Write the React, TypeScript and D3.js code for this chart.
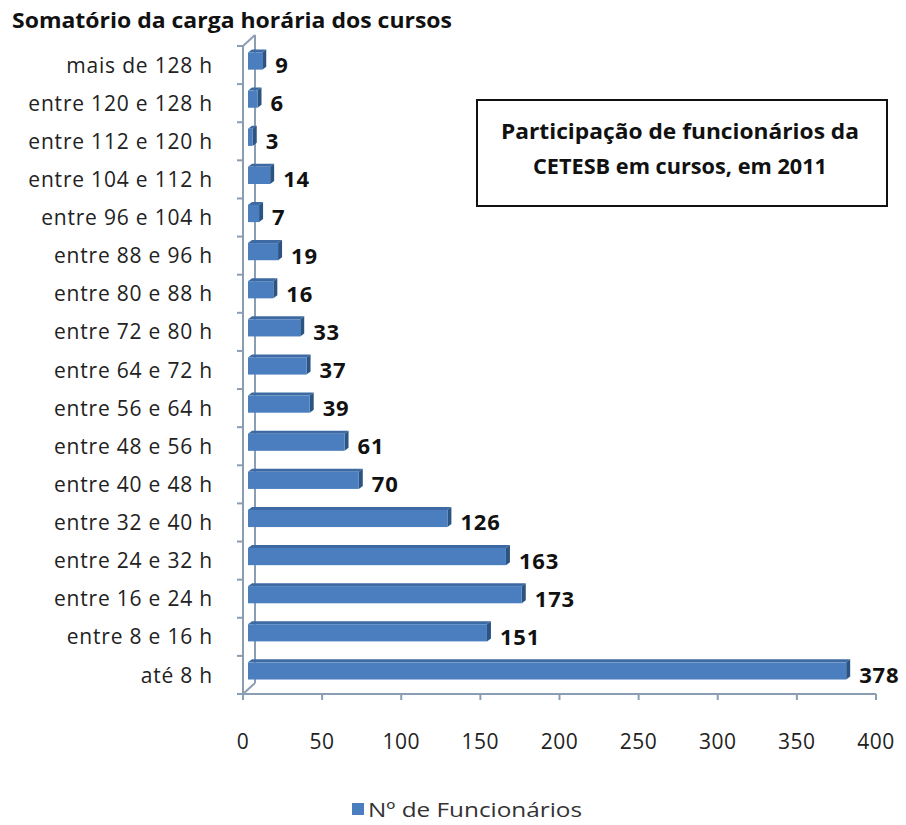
import React from "react";
import * as d3 from "d3";

const categories = [
  "mais de 128 h",
  "entre 120 e 128 h",
  "entre 112 e 120 h",
  "entre 104 e 112 h",
  "entre 96 e 104 h",
  "entre 88 e 96 h",
  "entre 80 e 88 h",
  "entre 72 e 80 h",
  "entre 64 e 72 h",
  "entre 56 e 64 h",
  "entre 48 e 56 h",
  "entre 40 e 48 h",
  "entre 32 e 40 h",
  "entre 24 e 32 h",
  "entre 16 e 24 h",
  "entre 8 e 16 h",
  "até 8 h",
];
const values = [9, 6, 3, 14, 7, 19, 16, 33, 37, 39, 61, 70, 126, 163, 173, 151, 378];
const xTicks = [0, 50, 100, 150, 200, 250, 300, 350, 400];
const seriesName = "Nº de Funcionários";
const chartTitle = "Somatório da carga horária dos cursos";
const boxLines = ["Participação de funcionários da", "CETESB em cursos, em 2011"];

const FONT = "'Open Sans', Lato, sans-serif";

export default function App() {
  const W = 906, H = 825;
  const x0 = 243, x1 = 876, yTop = 46, yBot = 694;
  const depth = { dx: 12, dy: -11 };
  const x = d3.scaleLinear().domain([0, 400]).range([x0, x1]);
  const y = d3.scaleBand().domain(categories).range([yTop, yBot]).paddingInner(0.55).paddingOuter(0.275);
  const yb = d3.scaleBand().domain(categories).range([yTop, yBot]);
  const axisColor = "#8a9db3";
  const fOff = { dx: 5, dy: -4 };
  const bOff = { dx: 9, dy: -7 };

  return (
    <svg width={W} height={H} style={{ display: "block", position: "absolute", left: 0, top: 0, background: "#fff" }}>
      <rect width={W} height={H} fill="#fff" />
      <text x={12} y={28} fontFamily={FONT} fontWeight="bold" fontSize={22} fill="#111" textLength={440} lengthAdjust="spacingAndGlyphs">{chartTitle}</text>

      {/* back wall line & diagonals */}
      <line x1={x0 + depth.dx} y1={yTop + depth.dy} x2={x0 + depth.dx} y2={yBot + depth.dy} stroke={axisColor} strokeWidth={2} />
      <line x1={x0} y1={yTop} x2={x0 + depth.dx} y2={yTop + depth.dy} stroke={axisColor} strokeWidth={2} />
      <line x1={x0} y1={yBot} x2={x0 + depth.dx} y2={yBot + depth.dy} stroke={axisColor} strokeWidth={2} />

      {/* bars */}
      {categories.map((c, i) => {
        const v = values[i];
        const yt = y(c)!;
        const h = y.bandwidth();
        const xs = x(0) + fOff.dx, xe = x(v) + fOff.dx;
        const ft = yt + fOff.dy;
        const ddx = bOff.dx - fOff.dx, ddy = bOff.dy - fOff.dy;
        return (
          <g key={c}>
            <path d={`M${xs},${ft} L${xs + ddx},${ft + ddy} L${xe + ddx},${ft + ddy} L${xe},${ft} Z`} fill="#3d6aa3" />
            <path d={`M${xe},${ft} L${xe + ddx},${ft + ddy} L${xe + ddx},${ft + ddy + h} L${xe},${ft + h} Z`} fill="#2c5483" />
            <rect x={xs} y={ft} width={Math.max(0, xe - xs)} height={h} fill="#4a7ebf" />
            <text x={xe + ddx + 9} y={yb(c)! + yb.bandwidth() / 2} dy="0.36em" fontFamily={FONT} fontWeight="bold" fontSize={22} letterSpacing={0.8} fill="#111">{v}</text>
          </g>
        );
      })}

      {/* front axes */}
      <line x1={x0} y1={yTop} x2={x0} y2={yBot} stroke={axisColor} strokeWidth={2} />
      {categories.map((c) => (
        <line key={"t" + c} x1={x0 - 6} x2={x0} y1={yb(c)!} y2={yb(c)!} stroke={axisColor} strokeWidth={2} />
      ))}
      <line x1={x0 - 6} x2={x0} y1={yBot} y2={yBot} stroke={axisColor} strokeWidth={2} />
      {categories.map((c) => (
        <text key={"l" + c} x={213} y={yb(c)! + yb.bandwidth() / 2} dy="0.36em" textAnchor="end" fontFamily={FONT} fontSize={21} letterSpacing={0.8} fill="#222">{c}</text>
      ))}
      <line x1={x0} y1={yBot} x2={x1} y2={yBot} stroke={axisColor} strokeWidth={2} />
      {xTicks.map((t) => (
        <g key={"x" + t}>
          <line x1={x(t)} x2={x(t)} y1={yBot} y2={yBot + 6} stroke={axisColor} strokeWidth={2} />
          <text x={x(t)} y={741} dy="0.36em" textAnchor="middle" fontFamily={FONT} fontSize={21} letterSpacing={0.5} fill="#222">{t}</text>
        </g>
      ))}

      {/* annotation box */}
      <rect x={477} y={100} width={410} height={106} fill="#fff" stroke="#111" strokeWidth={2} />
      {boxLines.map((l, i) => (
        <text key={l} x={680} y={131 + i * 35} dy="0.36em" textAnchor="middle" fontFamily={FONT} fontWeight="bold" fontSize={21} fill="#111" textLength={i === 0 ? 358 : 294} lengthAdjust="spacingAndGlyphs">{l}</text>
      ))}

      {/* legend */}
      <rect x={352} y={803} width={12} height={12} fill="#4a7ebf" />
      <text x={368} y={810} dy="0.36em" fontFamily={FONT} fontSize={20} fill="#333" textLength={214} lengthAdjust="spacingAndGlyphs">{seriesName}</text>
    </svg>
  );
}
